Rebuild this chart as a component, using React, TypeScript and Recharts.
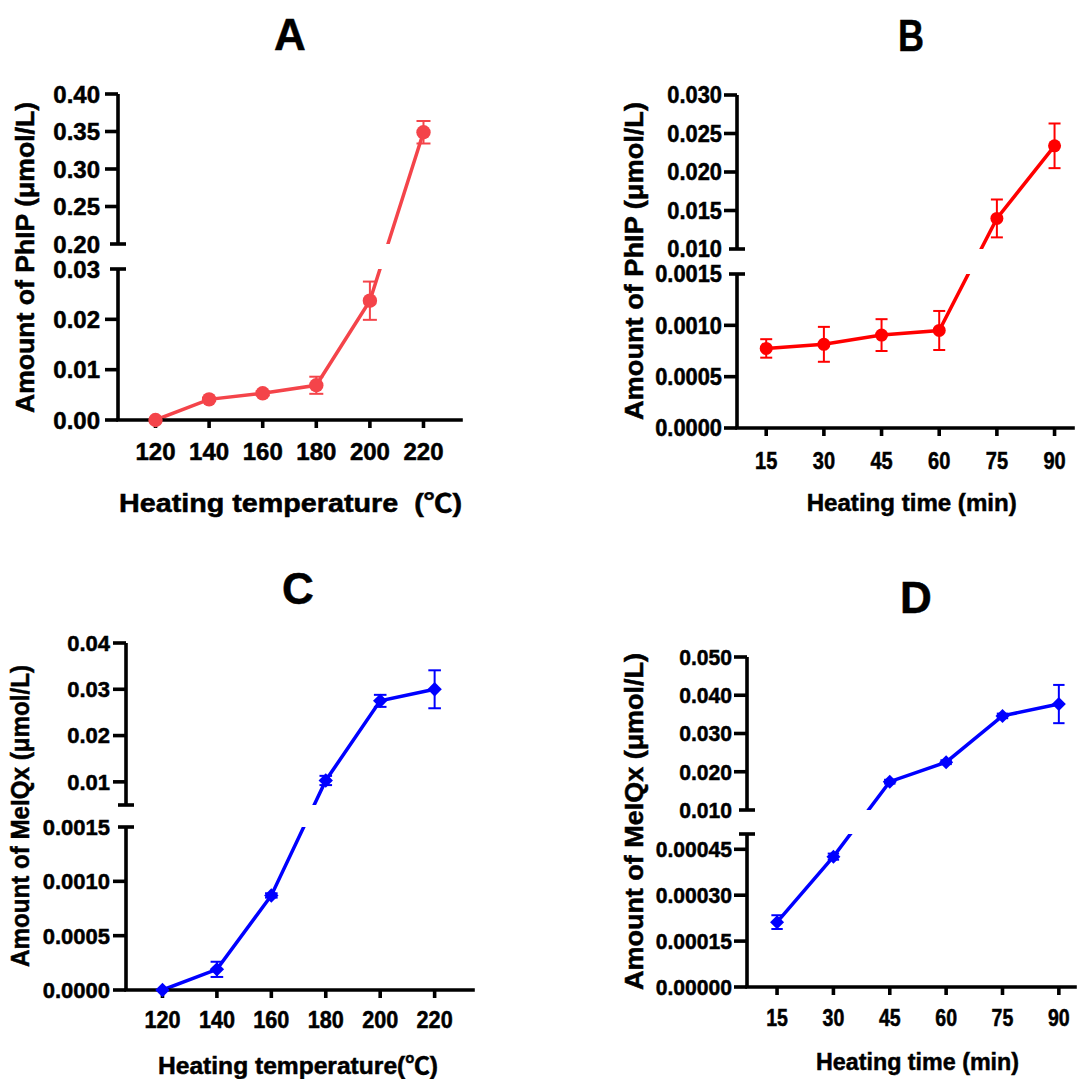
import React from "react";
import { LineChart, Line, XAxis, YAxis, ErrorBar } from "recharts";

const FONT = "'Liberation Sans', Arial, 'Noto Sans CJK SC', sans-serif";

// x categories
const temperatures = [120, 140, 160, 180, 200, 220];
const times = [15, 30, 45, 60, 75, 90];

// A: PhIP vs heating temperature
const phipTempMean = [0, 0.0041, 0.0053, 0.0069, 0.0237, 0.349];
const phipTempSd = [0, 0.0003, 0.0004, 0.0017, 0.0038, 0.015];
// B: PhIP vs heating time
const phipTimeMean = [0.000775, 0.000815, 0.000905, 0.00095, 0.01397, 0.0234];
const phipTimeSd = [0.00009, 0.00017, 0.000155, 0.00019, 0.00246, 0.0029];
// C: MeIQx vs heating temperature
const meiqxTempMean = [0, 0.00019, 0.00087, 0.0103, 0.0275, 0.03];
const meiqxTempSd = [0, 0.00007, 0.00002, 0.001, 0.0013, 0.0041];
// D: MeIQx vs heating time
const meiqxTimeMean = [0.000212, 0.000426, 0.0174, 0.0225, 0.0346, 0.0377];
const meiqxTimeSd = [0.0000225, 0.00001, 0.0005, 0.0005, 0.0006, 0.005];

// broken y axes: lower and upper segment ticks
const aLowTicks = [0, 0.01, 0.02, 0.03];
const aLowLabels = ["0.00", "0.01", "0.02", "0.03"];
const aHighTicks = [0.2, 0.25, 0.3, 0.35, 0.4];
const aHighLabels = ["0.20", "0.25", "0.30", "0.35", "0.40"];

const bLowTicks = [0, 0.0005, 0.001, 0.0015];
const bLowLabels = ["0.0000", "0.0005", "0.0010", "0.0015"];
const bHighTicks = [0.01, 0.015, 0.02, 0.025, 0.03];
const bHighLabels = ["0.010", "0.015", "0.020", "0.025", "0.030"];

const cLowTicks = [0, 0.0005, 0.001, 0.0015];
const cLowLabels = ["0.0000", "0.0005", "0.0010", "0.0015"];
const cHighTicks = [0.005, 0.01, 0.02, 0.03, 0.04];
const cHighLabels = ["", "0.01", "0.02", "0.03", "0.04"];

const dLowTicks = [0, 0.00015, 0.0003, 0.00045, 0.0005];
const dLowLabels = ["0.00000", "0.00015", "0.00030", "0.00045", ""];
const dHighTicks = [0.01, 0.02, 0.03, 0.04, 0.05];
const dHighLabels = ["0.010", "0.020", "0.030", "0.040", "0.050"];

const YW = 110;
const PADT = 20;
const PADR = 20;
const PADB = 15;
const AXIS_W = 3.6;
const BOLD = 0.5; // extra stroke to thicken the bold text

function makeYTick(ticks: number[], labels: string[], capIndex: number, font: number, sx: number, gap: number) {
  return (props: any) => {
    const { y, payload } = props;
    const i = ticks.findIndex((t) => Math.abs(t - payload.value) < 1e-6);
    const label = i >= 0 ? labels[i] : "";
    const cap = i === capIndex;
    return (
      <g>
        <line x1={cap ? YW - 8 : YW - 13} x2={cap ? YW + 8 : YW} y1={y} y2={y} stroke="#000" strokeWidth={AXIS_W} />
        {label ? (
          <text
            transform={`translate(${YW - gap},${y}) scale(${sx},1)`}
            textAnchor="end"
            dy="0.36em"
            fontSize={font}
            fontWeight="bold"
            fontFamily={FONT}
            fill="#000"
            stroke="#000"
            strokeWidth={BOLD}
          >
            {label}
          </text>
        ) : null}
      </g>
    );
  };
}

function makeXTick(axisY: number, font: number, sx: number, gap: number) {
  return (props: any) => {
    const { x, payload } = props;
    return (
      <g>
        <line x1={x} x2={x} y1={axisY} y2={axisY + 8} stroke="#000" strokeWidth={AXIS_W} />
        <text
          transform={`translate(${x},${axisY + gap}) scale(${sx},1)`}
          textAnchor="middle"
          dy="0.71em"
          fontSize={font}
          fontWeight="bold"
          fontFamily={FONT}
          fill="#000"
          stroke="#000"
          strokeWidth={BOLD}
        >
          {payload.value}
        </text>
      </g>
    );
  };
}

function Panel({ cats, mean, sd, low, high, geo, xDomain, color, marker, size, capW, style }: any) {
  const lowH = geo.lowBot - geo.lowTop;
  const upH = geo.upBot - geo.upTop;
  const gapH = geo.lowTop - geo.upBot;
  const plotW = geo.right - geo.left;
  const lowMin = low.ticks[0];
  const lowMax = low.ticks[low.ticks.length - 1];
  const upMin = high.ticks[0];
  const upMax = high.ticks[high.ticks.length - 1];
  const lowPx = (v: number) => ((v - lowMin) / (lowMax - lowMin)) * lowH;
  const upPx = (v: number) => lowH + gapH + ((v - upMin) / (upMax - upMin)) * upH;
  const toPx = (v: number) => (v <= lowMax ? lowPx(v) : upPx(v));
  const errPx = (v: number, e: number) => (v <= lowMax ? lowPx(v + e) - lowPx(v) : upPx(v + e) - upPx(v));

  const rows = cats.map((x: number, i: number) => ({ x, y: toPx(mean[i]), err: errPx(mean[i], sd[i]) }));
  const lowTicksPx = low.ticks.map(lowPx);
  const highTicksPx = high.ticks.map(upPx);
  const totalH = geo.lowBot - geo.upTop;
  const XH = 50;
  const axisLine = { stroke: "#000", strokeWidth: AXIS_W };

  const dot = (p: any) => {
    const { cx, cy, index } = p;
    if (cx == null || cy == null) return <g key={`e-${index}`} />;
    if (marker === "diamond")
      return (
        <polygon
          key={`d-${index}`}
          points={`${cx},${cy - size} ${cx + size},${cy} ${cx},${cy + size} ${cx - size},${cy}`}
          fill={color}
        />
      );
    return <circle key={`c-${index}`} cx={cx} cy={cy} r={size} fill={color} />;
  };

  return (
    <>
      {/* upper segment */}
      <div style={{ position: "absolute", left: geo.left - YW, top: geo.upTop - PADT }}>
        <LineChart
          width={YW + plotW + PADR}
          height={PADT + upH + PADB}
          data={rows}
          margin={{ top: PADT, right: PADR, bottom: PADB, left: 0 }}
        >
          <XAxis type="number" dataKey="x" domain={xDomain} hide allowDataOverflow />
          <YAxis
            type="number"
            domain={[lowH + gapH, lowH + gapH + upH]}
            allowDataOverflow
            ticks={highTicksPx}
            interval={0}
            width={YW}
            stroke="#000"
            strokeWidth={AXIS_W}
            tickLine={false}
            axisLine={axisLine}
            tick={makeYTick(highTicksPx, high.labels, 0, style.yFont, style.ySx, style.yGap)}
          />
          <Line type="linear" dataKey="y" stroke={color} strokeWidth={3.5} dot={false} isAnimationActive={false} />
        </LineChart>
      </div>
      {/* lower segment with x axis */}
      <div style={{ position: "absolute", left: geo.left - YW, top: geo.lowTop - PADT }}>
        <LineChart
          width={YW + plotW + PADR}
          height={PADT + lowH + XH + PADB}
          data={rows}
          margin={{ top: PADT, right: PADR, bottom: PADB, left: 0 }}
        >
          <XAxis
            type="number"
            dataKey="x"
            domain={xDomain}
            allowDataOverflow
            ticks={cats}
            interval={0}
            height={XH}
            stroke="#000"
            strokeWidth={AXIS_W}
            tickLine={false}
            axisLine={{ ...axisLine, strokeLinecap: "square" }}
            tick={makeXTick(PADT + lowH, style.xFont, style.xSx, style.xGap)}
          />
          <YAxis
            type="number"
            domain={[0, lowH]}
            allowDataOverflow
            ticks={lowTicksPx}
            interval={0}
            width={YW}
            stroke="#000"
            strokeWidth={AXIS_W}
            tickLine={false}
            axisLine={axisLine}
            tick={makeYTick(lowTicksPx, low.labels, low.ticks.length - 1, style.yFont, style.ySx, style.yGap)}
          />
          <Line type="linear" dataKey="y" stroke={color} strokeWidth={3.5} dot={false} isAnimationActive={false} />
        </LineChart>
      </div>
      {/* markers and error bars over the whole height */}
      <div style={{ position: "absolute", left: geo.left - PADR, top: geo.upTop - PADT }}>
        <LineChart
          width={plotW + 2 * PADR}
          height={totalH + 2 * PADT}
          data={rows}
          margin={{ top: PADT, right: PADR, bottom: PADT, left: PADR }}
        >
          <XAxis type="number" dataKey="x" domain={xDomain} hide />
          <YAxis type="number" domain={[0, totalH]} hide />
          <Line type="linear" dataKey="y" stroke="none" dot={dot} activeDot={false} isAnimationActive={false}>
            <ErrorBar dataKey="err" width={capW} strokeWidth={2} stroke={color} direction="y" />
          </Line>
        </LineChart>
      </div>
    </>
  );
}

function Txt({ x, y, size, text, len, rotate }: any) {
  return (
    <text
      transform={`translate(${x},${y})${rotate ? " rotate(-90)" : ""}`}
      textAnchor="middle"
      dy="0.36em"
      fontSize={size}
      fontWeight="bold"
      fontFamily={FONT}
      fill="#000"
      stroke="#000"
      strokeWidth={BOLD}
      {...(len ? { textLength: len, lengthAdjust: "spacingAndGlyphs" } : {})}
    >
      {text}
    </text>
  );
}

export default function App() {
  return (
    <div
      style={{
        position: "absolute",
        left: 0,
        top: 0,
        width: 1078,
        height: 1079,
        overflow: "hidden",
        background: "#fff",
      }}
    >
      <Panel
        cats={temperatures}
        mean={phipTempMean}
        sd={phipTempSd}
        low={{ ticks: aLowTicks, labels: aLowLabels }}
        high={{ ticks: aHighTicks, labels: aHighLabels }}
        geo={{ left: 118, right: 461, upTop: 94, upBot: 244, lowTop: 269, lowBot: 420 }}
        xDomain={[106, 234]}
        color="#F4444A"
        marker="circle"
        size={7.2}
        capW={7}
        style={{ yFont: 24, ySx: 1, yGap: 18, xFont: 24, xSx: 1, xGap: 23 }}
      />
      <Panel
        cats={times}
        mean={phipTimeMean}
        sd={phipTimeSd}
        low={{ ticks: bLowTicks, labels: bLowLabels }}
        high={{ ticks: bHighTicks, labels: bHighLabels }}
        geo={{ left: 737, right: 1073, upTop: 95, upBot: 249, lowTop: 274, lowBot: 428 }}
        xDomain={[7.4, 94.8]}
        color="#FF0000"
        marker="circle"
        size={6.5}
        capW={6}
        style={{ yFont: 23, ySx: 0.95, yGap: 15, xFont: 23, xSx: 0.87, xGap: 25 }}
      />
      <Panel
        cats={temperatures}
        mean={meiqxTempMean}
        sd={meiqxTempSd}
        low={{ ticks: cLowTicks, labels: cLowLabels }}
        high={{ ticks: cHighTicks, labels: cHighLabels }}
        geo={{ left: 126, right: 473, upTop: 643, upBot: 805, lowTop: 827, lowBot: 990 }}
        xDomain={[106.6, 234.1]}
        color="#0000FF"
        marker="diamond"
        size={7.2}
        capW={6.3}
        style={{ yFont: 22, ySx: 1, yGap: 16, xFont: 23, xSx: 0.94, xGap: 22 }}
      />
      <Panel
        cats={times}
        mean={meiqxTimeMean}
        sd={meiqxTimeSd}
        low={{ ticks: dLowTicks, labels: dLowLabels }}
        high={{ ticks: dHighTicks, labels: dHighLabels }}
        geo={{ left: 747, right: 1075, upTop: 657, upBot: 810, lowTop: 834, lowBot: 987 }}
        xDomain={[7, 94.3]}
        color="#0000FF"
        marker="diamond"
        size={7}
        capW={5.7}
        style={{ yFont: 22, ySx: 0.96, yGap: 15, xFont: 23, xSx: 0.85, xGap: 23 }}
      />
      <svg
        width={1078}
        height={1079}
        style={{ position: "absolute", left: 0, top: 0, pointerEvents: "none" }}
      >
        <Txt x={290} y={34} size={44} text="A" />
        <Txt x={911} y={35} size={44} text="B" len={26} />
        <Txt x={298} y={588} size={44} text="C" />
        <Txt x={916} y={597} size={44} text="D" />

        <Txt x={25} y={257.5} size={26} text="Amount of PhIP (μmol/L)" len={311} rotate />
        <Txt x={634} y={261} size={26} text="Amount of PhIP (μmol/L)" len={318} rotate />
        <Txt x={20} y={816} size={26} text="Amount of MeIQx (μmol/L)" len={302} rotate />
        <Txt x={634} y={821.5} size={26} text="Amount of MeIQx (μmol/L)" len={337} rotate />

        <Txt x={290.5} y={503} size={25} text={"Heating temperature \u00a0(℃)"} len={343} />
        <Txt x={911.7} y={502.5} size={24} text="Heating time (min)" len={210} />
        <Txt x={298} y={1065} size={24} text="Heating temperature(℃)" len={280} />
        <Txt x={917.5} y={1061} size={24} text="Heating time (min)" len={203} />
      </svg>
    </div>
  );
}
